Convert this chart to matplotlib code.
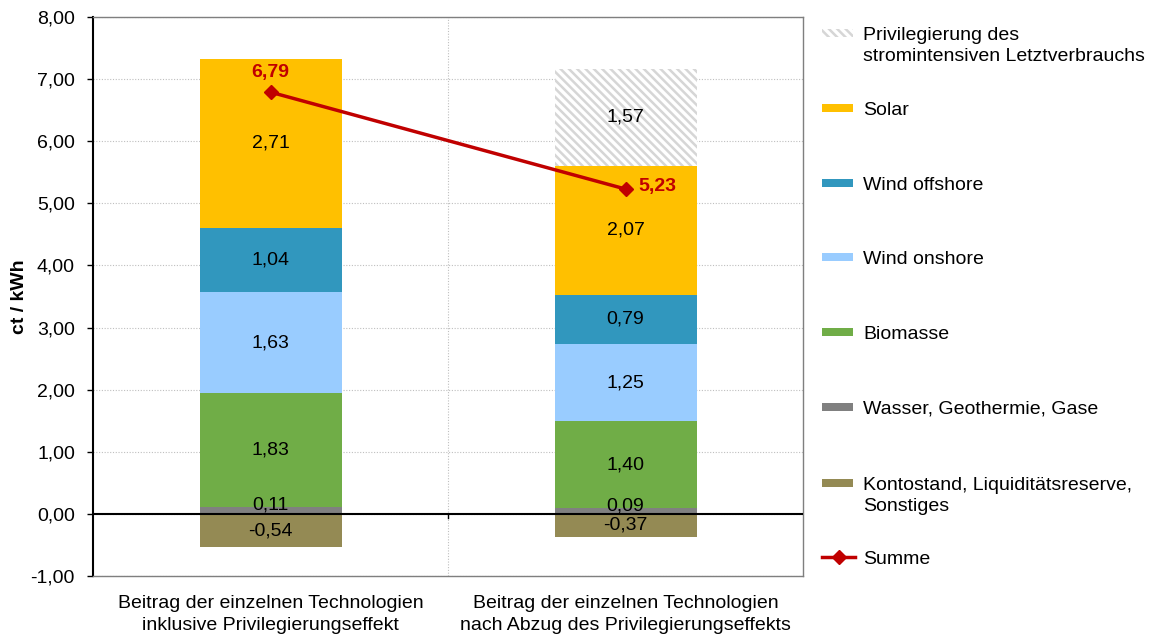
import matplotlib
matplotlib.use("Agg")
import matplotlib.pyplot as plt
from matplotlib.patches import Rectangle
from matplotlib.lines import Line2D

plt.rcParams['font.family'] = ['Liberation Sans', 'DejaVu Sans']
plt.rcParams['hatch.linewidth'] = 1.8

categories = ["Beitrag der einzelnen Technologien\ninklusive Privilegierungseffekt",
              "Beitrag der einzelnen Technologien\nnach Abzug des Privilegierungseffekts"]
wasser = [0.11, 0.09]
biomasse = [1.83, 1.40]
wind_on = [1.63, 1.25]
wind_off = [1.04, 0.79]
solar = [2.71, 2.07]
privileg = [0.0, 1.57]
konto = [-0.54, -0.37]
summe = [6.79, 5.23]

stack_series = [
    ("Wasser, Geothermie, Gase", wasser, "#808080"),
    ("Biomasse", biomasse, "#70AD47"),
    ("Wind onshore", wind_on, "#99CCFF"),
    ("Wind offshore", wind_off, "#3197BE"),
    ("Solar", solar, "#FFC000"),
]
priv_label = "Privilegierung des\nstromintensiven Letztverbrauchs"
konto_label = "Kontostand, Liquiditätsreserve,\nSonstiges"
konto_color = "#948A54"
hatch_color = "#D6D6D6"
line_color = "#C00000"

yticks = [-1, 0, 1, 2, 3, 4, 5, 6, 7, 8]

def de(v):
    return f"{v:.2f}".replace('.', ',')

W, H = 1150, 637
fig = plt.figure(figsize=(W / 100, H / 100), dpi=100)
ax = fig.add_axes([93 / W, 61 / H, 710 / W, 559 / H])

x = list(range(len(categories)))
bw = 0.4
fs = 14

bottom = [0.0, 0.0]
for k, (name, vals, col) in enumerate(stack_series):
    ax.bar(x, vals, bw, bottom=bottom, color=col, zorder=2)
    for i, v in enumerate(vals):
        dy = 4 if k == 0 else 0
        ax.annotate(de(v), (x[i], bottom[i] + v / 2), xytext=(0, dy), textcoords='offset points',
                    ha='center', va='center', fontsize=fs, zorder=5)
    bottom = [b + v for b, v in zip(bottom, vals)]

ax.bar(x, privileg, bw, bottom=bottom, color='white', edgecolor=hatch_color,
       hatch='\\\\\\\\', linewidth=0, zorder=2)
for i, v in enumerate(privileg):
    if v > 0:
        ax.text(x[i], bottom[i] + v / 2, de(v), ha='center', va='center', fontsize=fs, zorder=5)

ax.bar(x, konto, bw, color=konto_color, zorder=2)
for i, v in enumerate(konto):
    ax.text(x[i], v / 2, de(v), ha='center', va='center', fontsize=fs, zorder=5)

ax.plot(x, summe, color=line_color, lw=2.5, marker='D', markersize=7, zorder=6)
ax.annotate(de(summe[0]), (x[0], summe[0]), xytext=(0, 14), textcoords='offset points',
            ha='center', va='center', color=line_color, fontsize=fs, fontweight='bold', zorder=7)
ax.annotate(de(summe[1]), (x[1], summe[1]), xytext=(23, 2), textcoords='offset points',
            ha='center', va='center', color=line_color, fontsize=fs, fontweight='bold', zorder=7)

ax.set_xlim(-0.5, 1.5)
ax.set_ylim(-1, 8)
ax.set_yticks(yticks)
ax.set_yticklabels([de(v) for v in yticks], fontsize=fs)
ax.set_xticks(x)
ax.set_xticklabels(categories, fontsize=fs, linespacing=1.38)
ax.tick_params(axis='x', length=0, pad=14)
ax.tick_params(axis='y', length=4, width=1, pad=9, direction='out')
ax.set_xticks([0.5], minor=True)
ax.tick_params(axis='x', which='minor', length=0)
ax.grid(axis='y', which='major', linestyle=(0, (1, 1.5)), color='#BFBFBF', lw=0.8, zorder=0)
ax.grid(axis='x', which='minor', linestyle=(0, (1, 1.5)), color='#BFBFBF', lw=0.8, zorder=0)
ax.axhline(0, color='black', lw=1.5, zorder=4)
ax.plot([0.5, 0.5], [0, -0.07], color='black', lw=1, zorder=4)
ax.set_ylabel("ct / kWh", fontsize=fs, fontweight='bold')
ax.yaxis.set_label_coords(-0.092, 0.5)

for s in ['top', 'right', 'bottom']:
    ax.spines[s].set_color('#7F7F7F')
    ax.spines[s].set_linewidth(1)
ax.spines['left'].set_color('black')
ax.spines['left'].set_linewidth(1.5)

# legend drawn in pixel coordinates
lax = fig.add_axes([0, 0, 1, 1], facecolor='none')
lax.set_xlim(0, W)
lax.set_ylim(H, 0)
lax.axis('off')
sx0, sx1, sh, tx = 822, 853, 8, 863
entries = [
    (priv_label, 'hatch', hatch_color, 33),
    ("Solar", 'patch', "#FFC000", 108),
    ("Wind offshore", 'patch', "#3197BE", 183),
    ("Wind onshore", 'patch', "#99CCFF", 257),
    ("Biomasse", 'patch', "#70AD47", 332),
    ("Wasser, Geothermie, Gase", 'patch', "#808080", 407),
    (konto_label, 'patch', konto_color, 483),
    ("Summe", 'line', line_color, 557),
]
for label, kind, col, yc in entries:
    if kind == 'hatch':
        lax.add_patch(Rectangle((sx0, yc - sh / 2), sx1 - sx0, sh, facecolor='white',
                                edgecolor=col, hatch='\\\\\\\\', linewidth=0))
    elif kind == 'patch':
        lax.add_patch(Rectangle((sx0, yc - sh / 2), sx1 - sx0, sh, facecolor=col, linewidth=0))
    else:
        lax.add_line(Line2D([sx0, sx1 + 2], [yc, yc], color=col, lw=2.5))
        lax.add_line(Line2D([(sx0 + sx1) / 2 + 1], [yc], color=col, marker='D', markersize=7))
    lax.text(tx, yc - 6, label, ha='left', va='top', fontsize=fs, linespacing=1.3)

fig.savefig("out.png", dpi=100)
